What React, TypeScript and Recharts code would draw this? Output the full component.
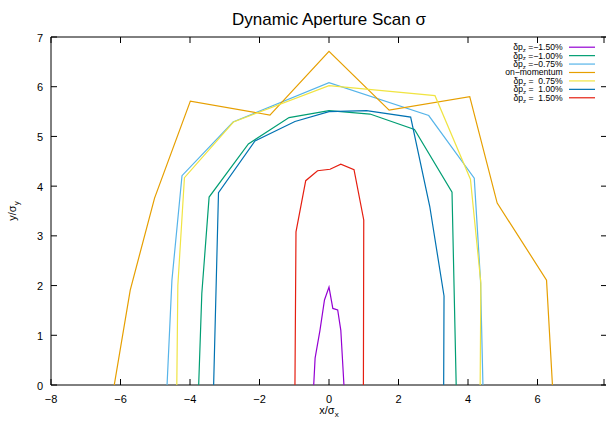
import { LineChart, Line, XAxis, YAxis, ReferenceArea, Legend } from 'recharts'

const FONT = '"Liberation Sans", Arial, Helvetica, sans-serif'
const PLOT_TOP = 37
const PLOT_RIGHT = 607

const X_TICKS = [-8, -6, -4, -2, 0, 2, 4, 6, 8]
const Y_TICKS = [0, 1, 2, 3, 4, 5, 6, 7]

// dp = -1.50%
const dpM150 = [
  { x: -0.44, y: 0 }, { x: -0.4, y: 0.54 }, { x: -0.26, y: 1.1 }, { x: -0.13, y: 1.71 },
  { x: 0, y: 1.97 }, { x: 0.11, y: 1.54 }, { x: 0.25, y: 1.51 }, { x: 0.34, y: 1.1 },
  { x: 0.43, y: 0 },
]
// dp = -1.00%
const dpM100 = [
  { x: -3.75, y: 0 }, { x: -3.66, y: 1.84 }, { x: -3.45, y: 3.78 }, { x: -2.32, y: 4.85 },
  { x: -1.15, y: 5.38 }, { x: 0, y: 5.52 }, { x: 1.18, y: 5.45 }, { x: 2.46, y: 5.14 },
  { x: 3.54, y: 3.88 }, { x: 3.66, y: 0 },
]
// dp = -0.75%
const dpM075 = [
  { x: -4.66, y: 0 }, { x: -4.52, y: 2.11 }, { x: -4.23, y: 4.21 }, { x: -2.76, y: 5.29 },
  { x: 0, y: 6.08 }, { x: 2.87, y: 5.42 }, { x: 4.18, y: 4.16 }, { x: 4.36, y: 2.1 },
  { x: 4.43, y: 0 },
]
// on-momentum
const onMom = [
  { x: -6.18, y: 0 }, { x: -5.72, y: 1.91 }, { x: -5.02, y: 3.76 }, { x: -3.99, y: 5.71 },
  { x: -1.7, y: 5.43 }, { x: 0, y: 6.71 }, { x: 1.73, y: 5.53 }, { x: 4.05, y: 5.8 },
  { x: 4.84, y: 3.66 }, { x: 6.26, y: 2.11 }, { x: 6.43, y: 0 },
]
// dp = 0.75%
const dpP075 = [
  { x: -4.38, y: 0 }, { x: -4.35, y: 2.0 }, { x: -4.16, y: 4.17 }, { x: -2.75, y: 5.29 },
  { x: 0, y: 6.02 }, { x: 3.05, y: 5.82 }, { x: 4.07, y: 4.14 }, { x: 4.37, y: 2.05 },
  { x: 4.35, y: 0 },
]
// dp = 1.00%
const dpP100 = [
  { x: -3.32, y: 0 }, { x: -3.18, y: 3.87 }, { x: -2.13, y: 4.91 }, { x: -0.98, y: 5.3 },
  { x: 0, y: 5.5 }, { x: 1.08, y: 5.52 }, { x: 2.35, y: 5.39 }, { x: 2.9, y: 3.59 },
  { x: 3.31, y: 1.79 }, { x: 3.3, y: 0 },
]
// dp = 1.50%
const dpP150 = [
  { x: -0.98, y: 0 }, { x: -0.95, y: 3.08 }, { x: -0.67, y: 4.11 }, { x: -0.33, y: 4.31 },
  { x: 0.03, y: 4.34 }, { x: 0.34, y: 4.44 }, { x: 0.72, y: 4.33 }, { x: 1.0, y: 3.32 },
  { x: 0.99, y: 0 },
]

const SERIES = [
  { key: 'm150', label: '=\u22121.50%', data: dpM150, color: '#9400d3' },
  { key: 'm100', label: '=\u22121.00%', data: dpM100, color: '#009e73' },
  { key: 'm075', label: '=\u22120.75%', data: dpM075, color: '#56b4e9' },
  { key: 'on', label: 'on\u2212momentum', data: onMom, color: '#e69f00' },
  { key: 'p075', label: '=  0.75%', data: dpP075, color: '#f0e442' },
  { key: 'p100', label: '=  1.00%', data: dpP100, color: '#0072b2' },
  { key: 'p150', label: '=  1.50%', data: dpP150, color: '#e51e10' },
]

const fmt = (v: number) => (v < 0 ? `\u2212${-v}` : `${v}`)

// gnuplot-style inward ticks, mirrored on the top edge; the label at 8 falls off the picture
const XTick = ({ x, y, payload }: any) => (
  <g>
    <line x1={x} y1={y} x2={x} y2={y - 6} stroke="#000" />
    <line x1={x} y1={PLOT_TOP} x2={x} y2={PLOT_TOP + 6} stroke="#000" />
    {payload.value < 8 && (
      <text x={x} y={y + 18} textAnchor="middle" fontSize={11} fontFamily={FONT} fill="#000">
        {fmt(payload.value)}
      </text>
    )}
  </g>
)

const YTick = ({ x, y, payload }: any) => (
  <g>
    <line x1={x} y1={y} x2={x + 6} y2={y} stroke="#000" />
    <line x1={PLOT_RIGHT} y1={y} x2={PLOT_RIGHT - 6} y2={y} stroke="#000" />
    <text x={x - 8} y={y + 4.5} textAnchor="end" fontSize={11} fontFamily={FONT} fill="#000">
      {payload.value}
    </text>
  </g>
)

const XLabel = ({ viewBox }: any) => (
  <text x={viewBox.x + viewBox.width / 2} y={viewBox.y + 29} textAnchor="middle" fontSize={11} fontFamily={FONT} fill="#000">
    x/σ<tspan dy={3} fontSize={8}>x</tspan>
  </text>
)

const YLabel = ({ viewBox }: any) => {
  const cx = 16
  const cy = viewBox.y + viewBox.height / 2
  return (
    <text x={cx} y={cy} transform={`rotate(-90, ${cx}, ${cy})`} textAnchor="middle" fontSize={11} fontFamily={FONT} fill="#000">
      y/σ<tspan dy={3} fontSize={8}>y</tspan>
    </text>
  )
}

const KeyBox = () => (
  <svg width={140} height={62} style={{ display: 'block' }}>
    {SERIES.map((s, i) => {
      const cy = 4.2 + i * 8.43
      return (
        <g key={s.key}>
          <text x={102.7} y={cy + 3} textAnchor="end" fontSize={8.6} fontFamily={FONT} fill="#000" style={{ whiteSpace: 'pre' }}>
            {s.key === 'on' ? (
              s.label
            ) : (
              <>
                δp<tspan dy={1.8} fontSize={6.2}>z</tspan>
                <tspan dy={-1.8}>{' ' + s.label}</tspan>
              </>
            )}
          </text>
          <line x1={109} x2={135} y1={cy} y2={cy} stroke={s.color} strokeWidth={1.2} />
        </g>
      )
    })}
  </svg>
)

export default function App() {
  return (
    <div style={{ position: 'absolute', left: 0, top: 0, width: 606, height: 424, overflow: 'hidden', background: '#fff' }}>
      <LineChart width={608} height={424} margin={{ top: PLOT_TOP, right: 1, left: 0, bottom: 0 }}>
        <text x={329} y={25} textAnchor="middle" fontSize={17} fontFamily={FONT} fill="#000">
          Dynamic Aperture Scan σ
        </text>
        <XAxis
          type="number"
          dataKey="x"
          domain={[-8, 8]}
          ticks={X_TICKS}
          allowDataOverflow
          height={39}
          tickSize={0}
          tickMargin={0}
          tickLine={false}
          axisLine={false}
          tick={<XTick />}
          label={<XLabel />}
        />
        <YAxis
          type="number"
          dataKey="y"
          domain={[0, 7]}
          ticks={Y_TICKS}
          allowDataOverflow
          width={51}
          tickSize={0}
          tickMargin={0}
          tickLine={false}
          axisLine={false}
          tick={<YTick />}
          label={<YLabel />}
        />
        <ReferenceArea x1={-8} x2={8} y1={0} y2={7} fill="none" fillOpacity={0} stroke="#000" strokeWidth={1} />
        {SERIES.map((s) => (
          <Line
            key={s.key}
            data={s.data}
            dataKey="y"
            name={s.key}
            type="linear"
            stroke={s.color}
            strokeWidth={1.2}
            dot={false}
            activeDot={false}
            isAnimationActive={false}
          />
        ))}
        <Legend
          layout="vertical"
          align="center"
          verticalAlign="middle"
          content={<KeyBox />}
          wrapperStyle={{ top: 42.5, left: 460, width: 140, height: 62 }}
        />
      </LineChart>
    </div>
  )
}
